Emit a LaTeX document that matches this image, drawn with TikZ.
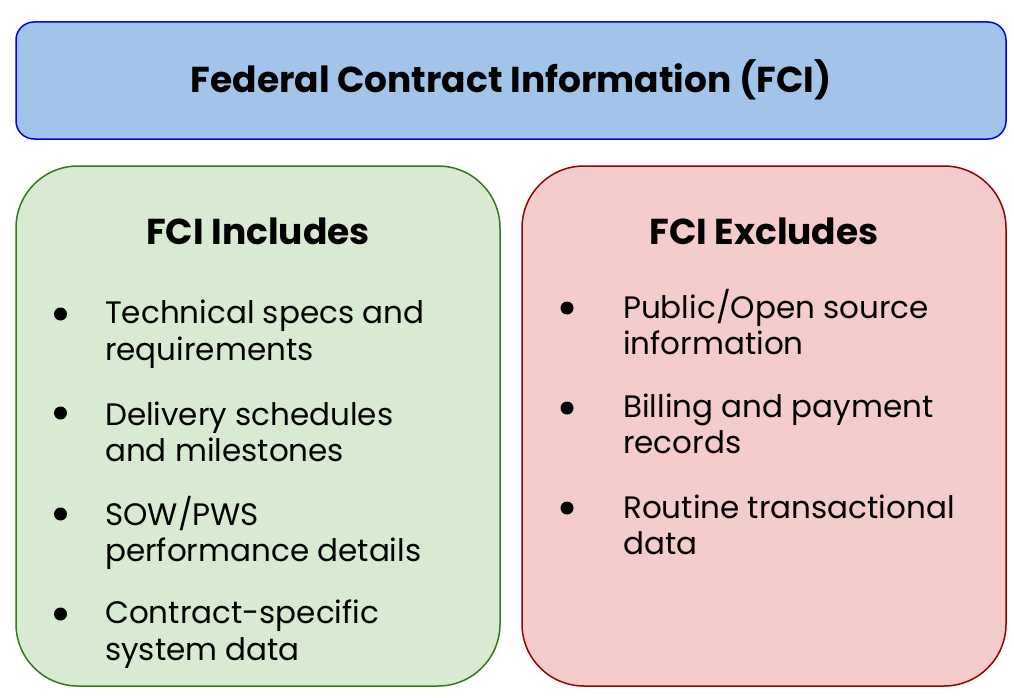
\documentclass[tikz,border=0pt]{standalone}
\usepackage{fontspec}
\setmainfont{Poppins}
\newfontface\poppinsbold{Poppins Bold}
\definecolor{bluefill}{HTML}{A1C4E8}
\definecolor{blueline}{HTML}{0000FF}
\definecolor{greenfill}{HTML}{D9EAD3}
\definecolor{greenline}{HTML}{38761D}
\definecolor{redfill}{HTML}{F4CCCC}
\definecolor{redline}{HTML}{990000}
\begin{document}
\begin{tikzpicture}[x=1pt,y=-1pt,
  panel/.style={line width=1.5pt},
  headtext/.style={font=\fontsize{36}{40}\poppinsbold, inner sep=0pt},
  itemtext/.style={font=\fontsize{31}{36.5}\selectfont, align=left, anchor=west, inner sep=0pt},
  bulletdot/.style={circle, fill=black, inner sep=0pt, minimum size=13pt}]
\useasboundingbox (0,0) rectangle (1014,698);
% panels
\draw[panel, draw=blueline, fill=bluefill, rounded corners=18pt] (16,22) rectangle (1006,139);
\draw[panel, draw=greenline, fill=greenfill, rounded corners=62pt] (16,166) rectangle (500,686);
\draw[panel, draw=redline, fill=redfill, rounded corners=62pt] (522,166) rectangle (1006,686);
\node[headtext] (title) at (511,80) {Federal Contract Information (FCI)};
\node[headtext] (inc) at (258,231) {FCI Includes};
\node[headtext] (exc) at (764,231) {FCI Excludes};
% includes
\node[bulletdot] (b1) at (60.5,314) {};
\node[itemtext] (i1) at (105,334) {Technical specs and\\requirements};
\node[bulletdot] (b2) at (60.5,413) {};
\node[itemtext] (i2) at (105,432) {Delivery schedules\\and milestones};
\node[bulletdot] (b3) at (60.5,514) {};
\node[itemtext] (i3) at (105,533) {SOW/PWS\\performance details};
\node[bulletdot] (b4) at (60.5,614) {};
\node[itemtext] (i4) at (105,634) {Contract-specific\\system data};
% excludes
\node[bulletdot] (c1) at (567,308) {};
\node[itemtext] (e1) at (623,322) {Public/Open source\\information};
\node[bulletdot] (c2) at (567,408) {};
\node[itemtext] (e2) at (623,424) {Billing and payment\\records};
\node[bulletdot] (c3) at (567,508) {};
\node[itemtext] (e3) at (623,525) {Routine transactional\\data};
\end{tikzpicture}
\end{document}
